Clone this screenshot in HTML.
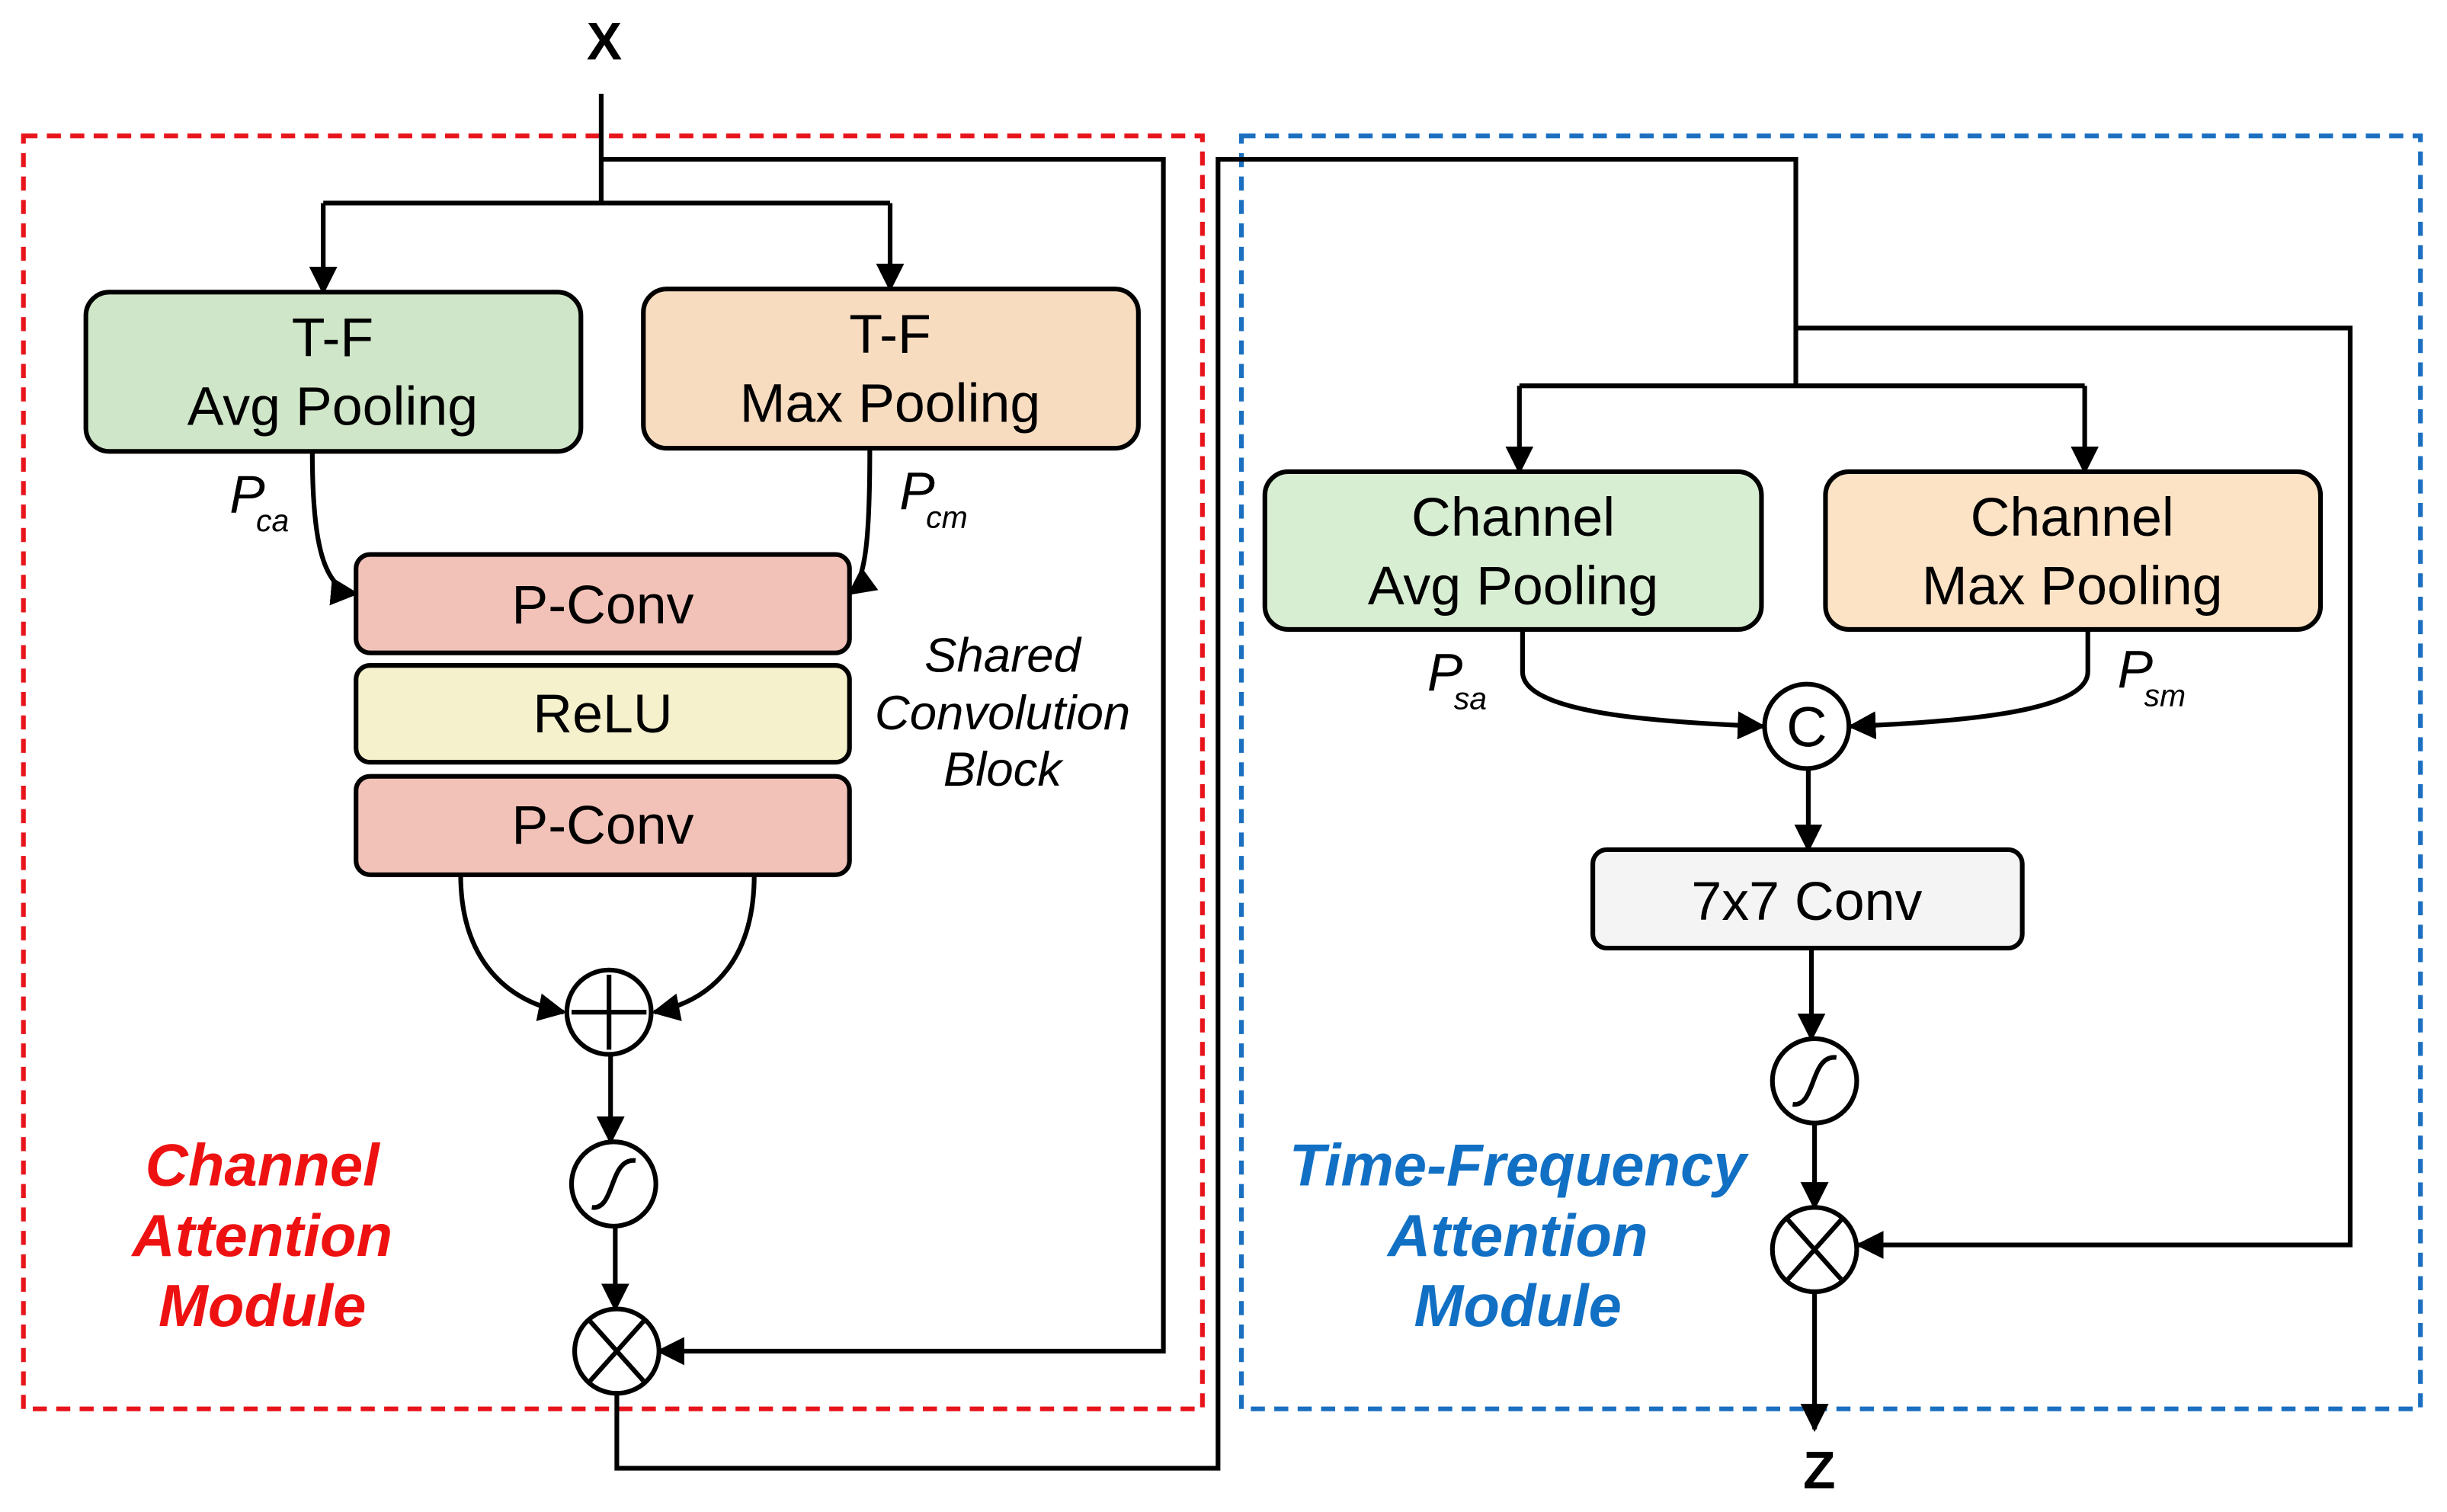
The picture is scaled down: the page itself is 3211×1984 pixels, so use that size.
<!DOCTYPE html>
<html><head><meta charset="utf-8"><style>
html,body{margin:0;padding:0;background:#fff;}
svg{display:block;}
text{font-family:"Liberation Sans","DejaVu Sans",sans-serif;}
</style></head><body>
<svg width="3211" height="1984" viewBox="0 0 1567 968" preserveAspectRatio="none" xmlns="http://www.w3.org/2000/svg">
<defs>
<marker id="b" viewBox="0 0 10 10" markerWidth="18" markerHeight="18" refX="9" refY="5" orient="auto" markerUnits="userSpaceOnUse">
<path d="M0,0 L10,5 L0,10 Z" fill="#000"/>
</marker>
</defs>
<rect x="15" y="87" width="755" height="815" fill="none" stroke="#e8141b" stroke-width="3" stroke-dasharray="9,6"/>
<rect x="795" y="87" width="755" height="815" fill="none" stroke="#1a6fc0" stroke-width="3" stroke-dasharray="9,6"/>
<g fill="none" stroke="#000" stroke-width="3">
<path d="M385,60 V130"/>
<path d="M385,102 H745 V865 H422" marker-end="url(#b)"/>
<path d="M207,130 H570"/>
<path d="M207,130 V187" marker-end="url(#b)"/>
<path d="M570,130 V185" marker-end="url(#b)"/>
<path d="M200,289 C200,340 205,378 228,380" marker-end="url(#b)"/>
<path d="M557,287 C557,340 555,372 544,380" marker-end="url(#b)"/>
<path d="M295,560 C295,610 320,640 361,648" marker-end="url(#b)"/>
<path d="M483,560 C483,610 460,640 419,648" marker-end="url(#b)"/>
<path d="M391,675 V731" marker-end="url(#b)"/>
<path d="M394,785 V838" marker-end="url(#b)"/>
<path d="M395,892 V940 H780 V102 H1150 V247"/>
<path d="M1150,210 H1505 V797 H1190" marker-end="url(#b)"/>
<path d="M973,247 H1335"/>
<path d="M973,247 V302" marker-end="url(#b)"/>
<path d="M1335,247 V302" marker-end="url(#b)"/>
<path d="M975,403 V430 C975,455 1050,462 1129,465" marker-end="url(#b)"/>
<path d="M1337,403 V430 C1337,455 1260,462 1185,465" marker-end="url(#b)"/>
<path d="M1158,492 V544" marker-end="url(#b)"/>
<path d="M1160,607 V665" marker-end="url(#b)"/>
<path d="M1162,719 V773" marker-end="url(#b)"/>
<path d="M1162,827 V915" marker-end="url(#b)"/>
</g>
<g stroke="#000" stroke-width="3">
<rect x="55" y="187" width="317" height="102" rx="15" fill="#cfe6c8"/>
<rect x="412" y="185" width="317" height="102" rx="15" fill="#f7dcc0"/>
<rect x="228" y="355" width="316" height="63" rx="9" fill="#f2c2b8"/>
<rect x="228" y="426" width="316" height="62" rx="9" fill="#f5f1cc"/>
<rect x="228" y="497" width="316" height="63" rx="9" fill="#f2c2b8"/>
<rect x="810" y="302" width="318" height="101" rx="15" fill="#d8eed3"/>
<rect x="1169" y="302" width="317" height="101" rx="15" fill="#fde3c6"/>
<rect x="1020" y="544" width="275" height="63" rx="9" fill="#f4f4f4"/>
<circle cx="390" cy="648" r="27" fill="#fff"/>
<circle cx="393" cy="758" r="27" fill="#fff"/>
<circle cx="395" cy="865" r="27" fill="#fff"/>
<circle cx="1157" cy="465" r="27" fill="#fff"/>
<circle cx="1162" cy="692" r="27" fill="#fff"/>
<circle cx="1162" cy="800" r="27" fill="#fff"/>
</g>
<g stroke="#000" stroke-width="3" fill="none">
<path d="M390,624 V672 M366,648 H414"/>
<path d="M378,846 L412,884 M412,846 L378,884"/>
<path d="M1145,781 L1179,819 M1179,781 L1145,819"/>
<path d="M379,773 C394,775 390,741 407,743"/>
<path d="M1148,707 C1163,709 1159,675 1176,677"/>
</g>
<text x="1157" y="478" font-size="36" text-anchor="middle">C</text>
<g font-size="35" text-anchor="middle" fill="#000">
<text x="213" y="228">T-F</text><text x="213" y="272">Avg Pooling</text>
<text x="570" y="226">T-F</text><text x="570" y="270">Max Pooling</text>
<text x="386" y="399">P-Conv</text>
<text x="386" y="469">ReLU</text>
<text x="386" y="540">P-Conv</text>
<text x="969" y="343">Channel</text><text x="969" y="387">Avg Pooling</text>
<text x="1327" y="343">Channel</text><text x="1327" y="387">Max Pooling</text>
<text x="1157" y="589">7x7 Conv</text>
</g>
<g font-size="31" font-style="italic" text-anchor="middle">
<text x="642" y="430">Shared</text><text x="642" y="467">Convolution</text><text x="642" y="503">Block</text>
</g>
<g font-family="Liberation Serif,serif" font-style="italic">
<text x="147" y="328" font-size="34">P</text><text x="164" y="340" font-size="20">ca</text>
<text x="576" y="326" font-size="34">P</text><text x="593" y="338" font-size="20">cm</text>
<text x="914" y="442" font-size="34">P</text><text x="931" y="454" font-size="20">sa</text>
<text x="1356" y="440" font-size="34">P</text><text x="1373" y="452" font-size="20">sm</text>
</g>
<text x="387" y="38" font-size="34" font-weight="bold" text-anchor="middle">X</text>
<text x="1165" y="953" font-size="34" font-weight="bold" text-anchor="middle">Z</text>
<g font-size="38" font-weight="bold" font-style="italic" text-anchor="middle" fill="#ee1111">
<text x="168" y="759">Channel</text><text x="168" y="804">Attention</text><text x="168" y="849">Module</text>
</g>
<g font-size="38" font-weight="bold" font-style="italic" text-anchor="middle" fill="#1170c4">
<text x="972" y="759">Time-Frequency</text><text x="972" y="804">Attention</text><text x="972" y="849">Module</text>
</g>
</svg>
</body></html>
